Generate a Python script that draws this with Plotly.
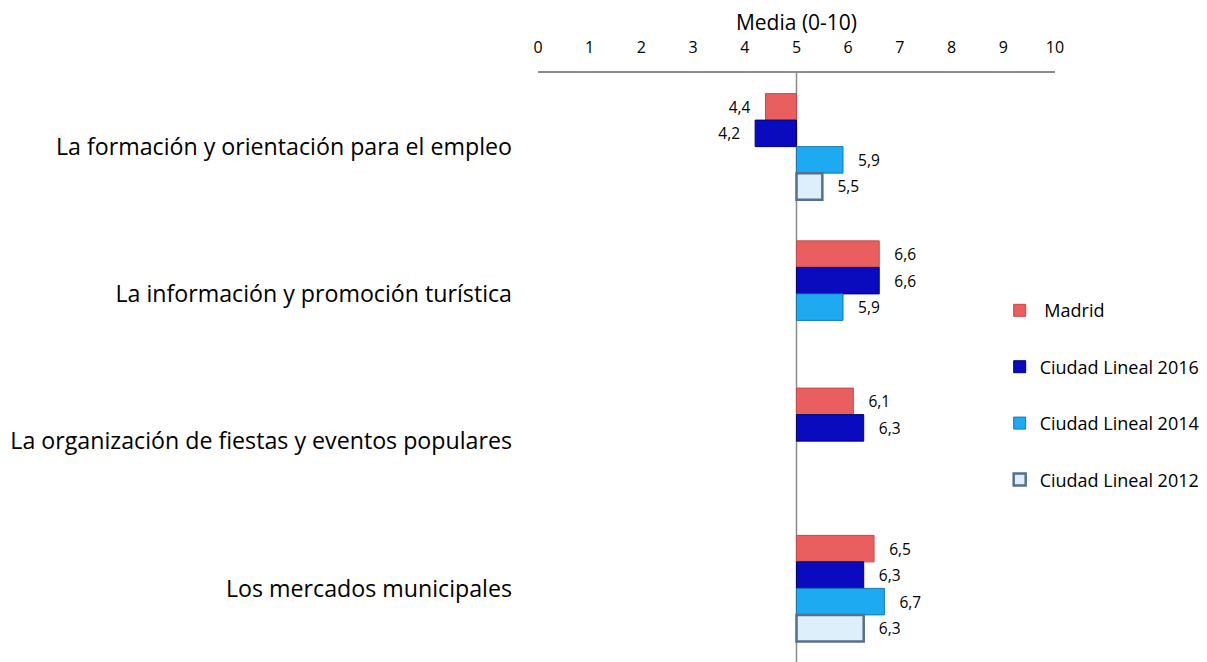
import plotly.graph_objects as go

categories = [
    "La formación y orientación para el empleo",
    "La información y promoción turística",
    "La organización de fiestas y eventos populares",
    "Los mercados municipales",
]
series_names = [" Madrid", "Ciudad Lineal 2016", "Ciudad Lineal 2014", "Ciudad Lineal 2012"]
madrid = [4.4, 6.6, 6.1, 6.5]
cl_2016 = [4.2, 6.6, 6.3, 6.3]
cl_2014 = [5.9, 5.9, None, 6.7]
cl_2012 = [5.5, None, None, 6.3]
x_ticks = list(range(0, 11))

base_value = 5
fill_colors = ["#E95F5F", "#0A0ABF", "#1EAAF0", "#DDEFFA"]
line_colors = ["#C84848", "#00007A", "#1478B4", "#55708F"]
line_widths = [1, 1, 1, 2.5]

font_family = "'Open Sans', sans-serif"


def fmt(v):
    return f"{v:.1f}".replace(".", ",")


fig = go.Figure()

for name, vals, fc, lc, lw in zip(series_names, [madrid, cl_2016, cl_2014, cl_2012],
                                  fill_colors, line_colors, line_widths):
    xs, texts = [], []
    for v in vals:
        if v is None:
            xs.append(None)
            texts.append("")
        else:
            xs.append(v - base_value)
            # pad label away from the bar end
            texts.append("   " + fmt(v) if v >= base_value else fmt(v) + "   ")
    fig.add_trace(go.Bar(
        name=name,
        y=categories,
        x=xs,
        base=base_value,
        orientation="h",
        marker=dict(color=fc, line=dict(color=lc, width=lw)),
        text=texts,
        textposition="outside",
        textfont=dict(size=15.5, color="#000000", family=font_family),
        cliponaxis=False,
        legendgroup=name,
        hovertemplate=name + ": %{text}<extra></extra>",
    ))

# vertical reference line at the midpoint (5)
fig.add_shape(type="line", xref="x", yref="paper", x0=base_value, x1=base_value,
              y0=0, y1=1, line=dict(color="#8C8C8C", width=1.5), layer="below")

fig.update_layout(
    width=1207,
    height=662,
    margin=dict(l=530, r=160, t=65, b=8),
    paper_bgcolor="white",
    plot_bgcolor="white",
    barmode="group",
    bargap=0.28,
    bargroupgap=0,
    font=dict(family=font_family, color="#000000"),
    showlegend=True,
    legend=dict(
        x=0.893, y=0.628, xanchor="left", yanchor="top",
        traceorder="grouped", tracegroupgap=30,
        font=dict(size=18, family=font_family),
        bgcolor="rgba(0,0,0,0)",
    ),
    xaxis=dict(
        side="top",
        range=[0, 10],
        tickvals=x_ticks,
        ticktext=[str(t) for t in x_ticks],
        tickfont=dict(size=16),
        showgrid=False,
        zeroline=False,
        showline=True,
        linecolor="#8C8C8C",
        linewidth=1.5,
        ticks="",
        ticklabelstandoff=12,
        automargin=False,
        title=dict(text="Media (0-10)", font=dict(size=21), standoff=8),
    ),
    yaxis=dict(
        autorange="reversed",
        showgrid=False,
        zeroline=False,
        showline=False,
        ticks="",
        tickfont=dict(size=23.2),
        ticklabelstandoff=25,
        automargin=False,
    ),
)

fig.write_html("out.html")
